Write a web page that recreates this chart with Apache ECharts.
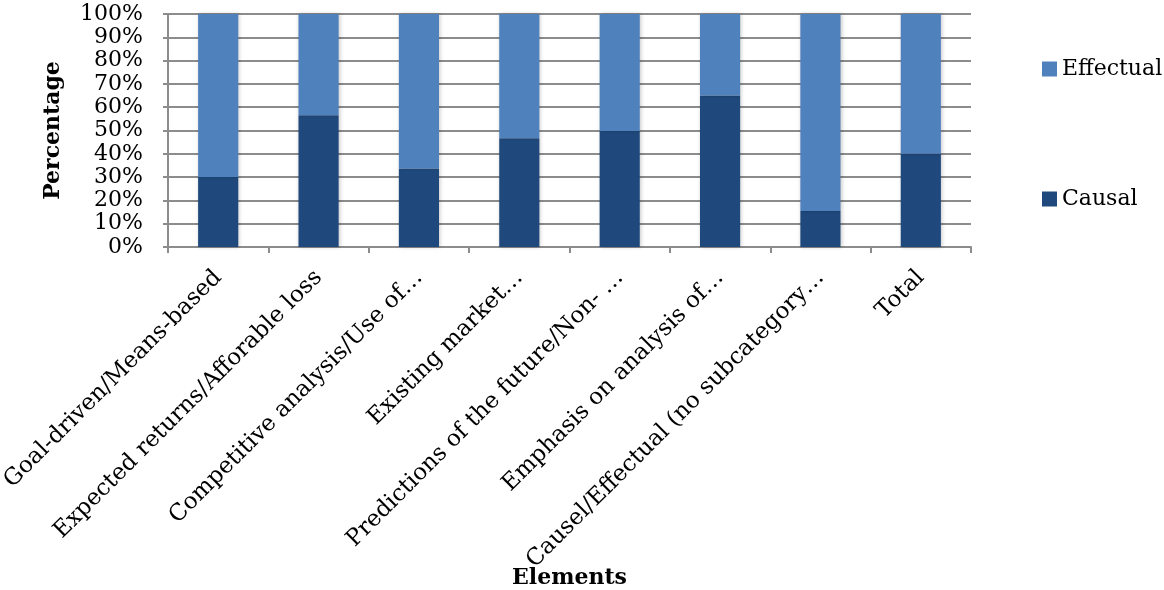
<!DOCTYPE html>
<html>
<head>
<meta charset="utf-8">
<script src="https://cdn.jsdelivr.net/npm/echarts@6/dist/echarts.min.js"></script>
<style>
  html, body { margin: 0; padding: 0; background: #fff; }
  #chart { width: 1164px; height: 590px; }
</style>
</head>
<body>
<div id="chart"></div>
<script>
// Share of causal vs. effectual reasoning per element (100% stacked)
const categories = [
  'Goal-driven/Means-based',
  'Expected returns/Afforable loss',
  'Competitive analysis/Use of…',
  'Existing market…',
  'Predictions of the future/Non- …',
  'Emphasis on analysis of…',
  'Causel/Effectual (no subcategory…',
  'Total'
];
const causal = [30.0, 56.5, 33.7, 46.7, 49.8, 65.0, 15.4, 40.0];
const effectual = [70.0, 43.5, 66.3, 53.3, 50.2, 35.0, 84.6, 60.0];
const yTicks = [0, 10, 20, 30, 40, 50, 60, 70, 80, 90, 100];

const FONT = 'DejaVu Serif';
const GRIDCOLOR = '#8c8c8c';

const chart = echarts.init(document.getElementById('chart'), null, { renderer: 'canvas' });

const barShadow = {
  shadowBlur: 4,
  shadowColor: 'rgba(0,0,0,0.22)',
  shadowOffsetX: 1,
  shadowOffsetY: 0
};

chart.setOption({
  animation: false,
  backgroundColor: '#ffffff',
  textStyle: { fontFamily: FONT, color: '#000' },
  grid: {
    left: 168, right: 193, top: 14, bottom: 343,
    containLabel: false,
    outerBoundsMode: 'none'
  },
  legend: {
    orient: 'vertical',
    left: 1037,
    top: 53,
    itemGap: 108,
    itemWidth: 15,
    itemHeight: 15,
    icon: 'rect',
    data: ['Effectual', 'Causal'],
    textStyle: { fontFamily: FONT, fontSize: 22, color: '#000', padding: [0, 0, 0, 0] }
  },
  xAxis: {
    type: 'category',
    data: categories,
    name: 'Elements',
    nameLocation: 'middle',
    nameGap: 320,
    nameMoveOverlap: false,
    nameTextStyle: { fontFamily: FONT, fontSize: 22, fontWeight: 'bold', color: '#000' },
    axisLine: { lineStyle: { color: GRIDCOLOR, width: 2 } },
    axisTick: { show: true, alignWithLabel: false, length: 6, lineStyle: { color: GRIDCOLOR, width: 2 } },
    axisLabel: {
      interval: 0,
      rotate: 45,
      margin: 27,
      hideOverlap: false,
      fontFamily: FONT,
      fontSize: 23,
      color: '#000'
    },
    splitLine: { show: false }
  },
  yAxis: {
    type: 'value',
    min: 0,
    max: 100,
    interval: 10,
    name: 'Percentage',
    nameLocation: 'middle',
    nameGap: 104,
    nameMoveOverlap: false,
    nameRotate: 90,
    nameTextStyle: { fontFamily: FONT, fontSize: 22, fontWeight: 'bold', color: '#000' },
    axisLine: { show: true, lineStyle: { color: GRIDCOLOR, width: 2 } },
    axisTick: { show: true, length: 5, lineStyle: { color: GRIDCOLOR, width: 2 } },
    axisLabel: {
      margin: 25,
      showMinLabel: true,
      showMaxLabel: true,
      hideOverlap: false,
      fontFamily: FONT,
      fontSize: 22,
      color: '#000',
      lineHeight: 22,
      formatter: v => (yTicks.includes(v) ? v + '%' : '')
    },
    splitLine: { show: true, lineStyle: { color: GRIDCOLOR, width: 2 } }
  },
  series: [
    {
      name: 'Causal',
      type: 'bar',
      stack: 'share',
      barWidth: '40%',
      data: causal,
      itemStyle: Object.assign({ color: '#1f497d' }, barShadow)
    },
    {
      name: 'Effectual',
      type: 'bar',
      stack: 'share',
      barWidth: '40%',
      data: effectual,
      itemStyle: Object.assign({ color: '#4f81bd' }, barShadow)
    }
  ]
});
</script>
</body>
</html>
